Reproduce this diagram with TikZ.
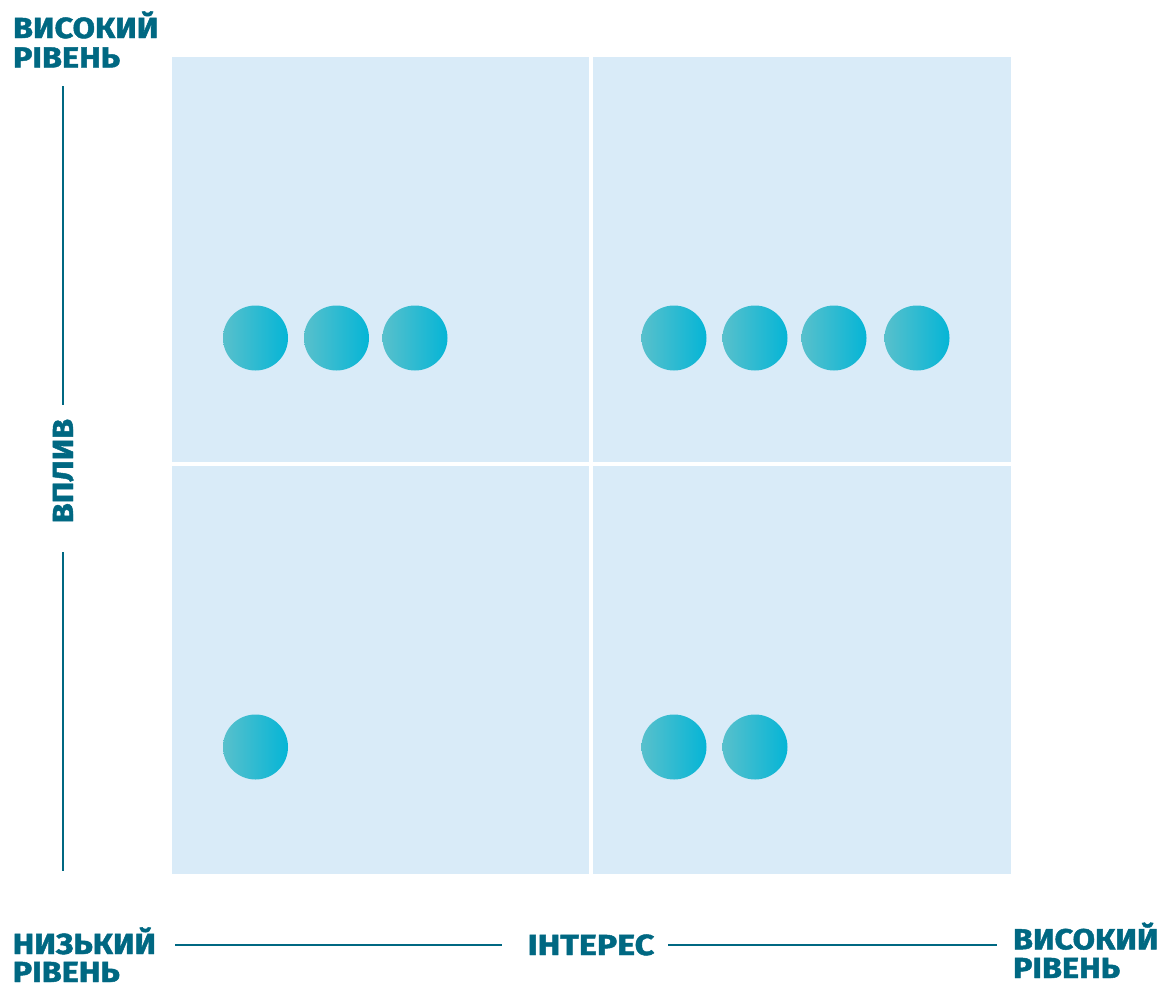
\documentclass[tikz,border=0pt]{standalone}
\usepackage{fontspec}
\setmainfont{Fira Sans}
\newfontfamily\heavyfont{Fira Sans}[BoldFeatures={FakeBold=1.6,FakeStretch=1.12}]
\definecolor{txt}{HTML}{006882}
\definecolor{quad}{HTML}{D9EBF8}
\definecolor{cl}{HTML}{58C0CC}
\definecolor{cr}{HTML}{05B5D6}
\tikzset{
  lbl/.style={inner sep=0pt, outer sep=0pt, text=txt, font=\heavyfont\fontsize{29}{30}\selectfont\bfseries},
  axis/.style={draw=txt, line width=2pt},
  quadbox/.style={fill=quad, draw=none},
  dot/.style={circle, minimum size=65pt, inner sep=0pt, draw=none, left color=cl, right color=cr}
}
\begin{document}
\begin{tikzpicture}[x=1pt,y=-1pt]
\useasboundingbox (0,0) rectangle (1169,988);
% quadrants
\path[quadbox] (172,57) rectangle (589,462);
\path[quadbox] (593,57) rectangle (1010.5,462);
\path[quadbox] (172,466) rectangle (589,874);
\path[quadbox] (593,466) rectangle (1010.5,874);
% dots
\foreach \n/\x/\y in {a/255.5/338, b/336.5/338, c/415/338,
                      d/674/338, e/755/338, f/834/338, g/917/338,
                      h/255.5/747, i/674/747, j/755/747}
  \node[dot] (dot\n) at (\x,\y) {};
% labels
\node[lbl, anchor=base west] (tl1) at (13,38) {ВИСОКИЙ};
\node[lbl, anchor=base west] (tl2) at (13,67.5) {РІВЕНЬ};
\node[lbl, anchor=base west] (bl1) at (12.7,954) {НИЗЬКИЙ};
\node[lbl, anchor=base west] (bl2) at (12.7,982) {РІВЕНЬ};
\node[lbl, anchor=base west] (br1) at (1013,949.3) {ВИСОКИЙ};
\node[lbl, anchor=base west] (br2) at (1013,978) {РІВЕНЬ};
\node[lbl, anchor=base, xscale=1.05] (xlab) at (591,955) {ІНТЕРЕС};
\node[lbl, anchor=base, rotate=90] (ylab) at (73,471) {ВПЛИВ};
% axis lines
\coordinate (v1) at (63,86);
\coordinate (v2) at (63,405);
\coordinate (v3) at (63,552);
\coordinate (v4) at (63,871);
\coordinate (h1) at (175,945);
\coordinate (h2) at (502,945);
\coordinate (h3) at (668,945);
\coordinate (h4) at (997,945);
\draw[axis] (v1) -- (v2);
\draw[axis] (v3) -- (v4);
\draw[axis] (h1) -- (h2);
\draw[axis] (h3) -- (h4);
\end{tikzpicture}
\end{document}
